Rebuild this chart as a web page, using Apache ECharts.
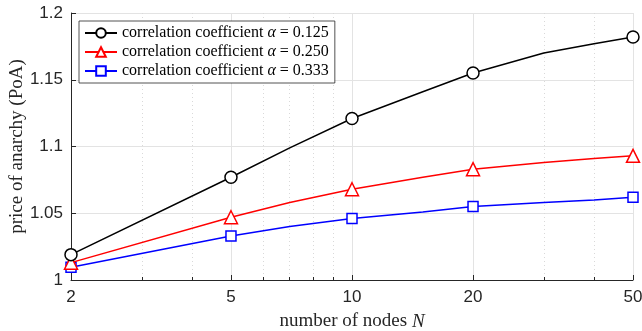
<!DOCTYPE html>
<html>
<head>
<meta charset="utf-8">
<script src="https://cdn.jsdelivr.net/npm/echarts@6/dist/echarts.min.js"></script>
<style>
html,body{margin:0;padding:0;background:#fff;}
#chart{width:642px;height:331px;}
</style>
</head>
<body>
<div id="chart"></div>
<script>
// number of nodes N (markers only at the marked ones)
var nodes = [2, 5, 7, 10, 15, 20, 30, 40, 50];
var markedNodes = [2, 5, 10, 20, 50];
var poa125 = [1.019, 1.077, 1.099, 1.121, 1.141, 1.155, 1.170, 1.177, 1.182];
var poa250 = [1.013, 1.047, 1.058, 1.068, 1.077, 1.083, 1.088, 1.091, 1.093];
var poa333 = [1.0095, 1.033, 1.040, 1.046, 1.051, 1.055, 1.058, 1.060, 1.062];
var names = ['0.125', '0.250', '0.333'];
var xMajor = [2, 5, 10, 20, 50];
var xMinor = [3, 4, 6, 7, 8, 9, 30, 40];

var serif = 'Liberation Serif';
var sans = 'Liberation Sans';

function pts(vals){
	var out = [];
	for (var i = 0; i < nodes.length; i++) {
		var d = {value: [nodes[i], vals[i]]};
		if (markedNodes.indexOf(nodes[i]) < 0) d.symbol = 'none';
		out.push(d);
	}
	return out;
}

function mkSeries(i, vals, color, symbol, size){
	return {
		name: names[i],
		type: 'line',
		xAxisIndex: 0,
		data: pts(vals),
		symbol: symbol,
		symbolSize: size,
		showAllSymbol: true,
		lineStyle: {color: color, width: 1.5},
		itemStyle: {color: '#fff', borderColor: color, borderWidth: 1.5},
		z: 3 - i,
		animation: false
	};
}

var mychart = echarts.init(document.getElementById('chart'));
var option = {
	animation: false,
	grid: {left: 71, right: 9, top: 13, bottom: 51, outerBoundsMode: 'none', containLabel: false},
	legend: {
		orient: 'vertical',
		left: 79, top: 21,
		itemWidth: 32, itemHeight: 12,
		itemGap: 3,
		padding: [4, 6, 4, 5],
		backgroundColor: '#fff',
		borderColor: '#262626',
		borderWidth: 0.8,
		borderRadius: 0,
		formatter: function(n){ return 'correlation coefficient {i|α} = ' + n; },
		textStyle: {
			fontFamily: serif, fontSize: 16, color: '#000',
			rich: {i: {fontFamily: serif, fontStyle: 'italic', fontSize: 16, color: '#000'}}
		}
	},
	xAxis: [{
		type: 'log', logBase: 10, min: 2, max: 50,
		name: 'number of nodes {i|N}',
		nameLocation: 'middle', nameGap: 32, nameMoveOverlap: false,
		nameTextStyle: {
			fontFamily: serif, fontSize: 19, color: '#262626',
			rich: {i: {fontFamily: serif, fontStyle: 'italic', fontSize: 19, color: '#262626'}}
		},
		axisLine: {show: true, lineStyle: {color: '#262626', width: 1}},
		axisTick: {show: true, inside: true, length: 5, customValues: xMajor, lineStyle: {color: '#262626'}},
		axisLabel: {customValues: xMajor, fontFamily: sans, fontSize: 17, color: '#262626', margin: 9},
		splitLine: {show: true, lineStyle: {color: '#e3e3e3', width: 1}}
	}, {
		type: 'log', logBase: 10, min: 2, max: 50,
		position: 'bottom',
		axisLine: {show: false},
		axisTick: {show: true, inside: true, length: 3, customValues: xMinor, lineStyle: {color: '#262626'}},
		axisLabel: {show: false, customValues: xMinor},
		splitLine: {show: true, lineStyle: {color: '#d9d9d9', width: 1, type: [1, 3]}}
	}],
	yAxis: {
		type: 'value', min: 1, max: 1.2, interval: 0.05,
		name: 'price of anarchy (PoA)',
		nameLocation: 'middle', nameGap: 44, nameMoveOverlap: false,
		nameTextStyle: {fontFamily: serif, fontSize: 19, color: '#262626'},
		axisLine: {show: true, lineStyle: {color: '#262626', width: 1}},
		axisTick: {show: true, inside: true, length: 5, lineStyle: {color: '#262626'}},
		axisLabel: {
			fontFamily: sans, fontSize: 17, color: '#262626', margin: 8,
			formatter: function(v){ return String(+v.toFixed(2)); }
		},
		splitLine: {show: true, lineStyle: {color: '#e3e3e3', width: 1}}
	},
	series: [
		mkSeries(0, poa125, '#000000', 'circle', 12),
		mkSeries(1, poa250, '#ff0000', 'triangle', 13),
		mkSeries(2, poa333, '#0000ff', 'rect', 10)
	]
};
mychart.setOption(option);
</script>
</body>
</html>
